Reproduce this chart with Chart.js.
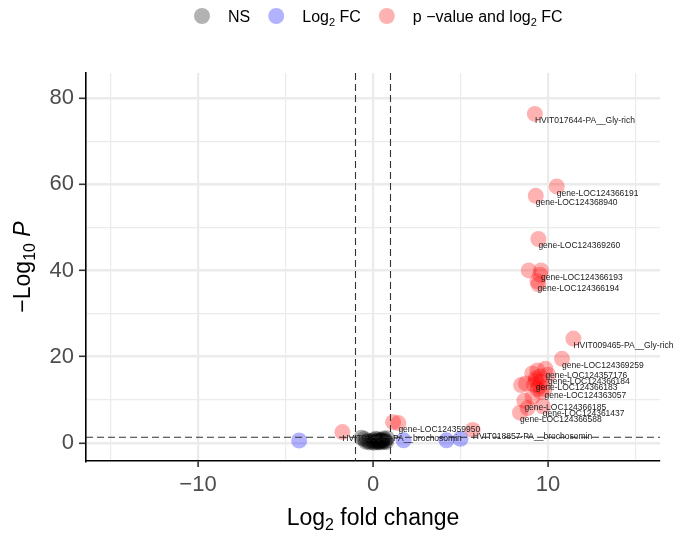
<!DOCTYPE html>
<html>
<head>
<meta charset="utf-8">
<script src="https://cdn.jsdelivr.net/npm/chart.js@4"></script>
<style>
  body { margin: 0; background: #fff; }
  #wrap { width: 680px; height: 538px; }
</style>
</head>
<body>
<div id="wrap"><canvas id="volcano"></canvas></div>
<script>
// --- data ---
// not significant (grey)
const nsX = [-0.65, -0.5, -0.3, -0.1, 0.0, 0.1, 0.2, 0.25, 0.3, 0.35, 0.4, 0.45, 0.5, 0.55, 0.6, 0.65, 0.7, 0.8, -0.2, 0.05, 0.15, -0.4, 0.3, 0.5, 0.75];
const nsY = [1.2, 0.9, 0.5, 0.3, 0.6, 0.2, 0.4, 0.8, 0.1, 0.5, 0.3, 0.7, 0.15, 0.45, 1.0, 0.3, 0.6, 1.1, 0.1, 0.05, 0.95, 0.25, 0.25, 0.6, 0.2];
// log2 FC only (blue)
const fcX = [-4.22, 1.75, 4.2, 5.0];
const fcY = [0.55, 0.6, 0.6, 0.95];
// p-value and log2 FC, unlabelled (red)
const sigX = [8.9, 9.55, 9.45, 9.1, 9.4, 9.55, 9.3, 9.6, 9.2, 9.5, 8.46, 8.74, 9.12, 8.84, 9.6, 9.4, 1.15];
const sigY = [40.0, 39.0, 36.8, 16.1, 16.8, 15.4, 15.0, 14.2, 13.5, 13.2, 13.4, 13.8, 10.7, 8.1, 11.8, 12.5, 4.8];
// labelled genes (red)
const labelNames = [
  'HVIT017644-PA__Gly-rich', 'gene-LOC124366191', 'gene-LOC124368940', 'gene-LOC124369260',
  'gene-LOC124366193', 'gene-LOC124366194', 'HVIT009465-PA__Gly-rich', 'gene-LOC124369259',
  'gene-LOC124357176', 'gene-LOC124366184', 'gene-LOC124366183', 'gene-LOC124363057',
  'gene-LOC124366185', 'gene-LOC124361437', 'gene-LOC124366588', 'gene-LOC124359950',
  'HVIT030047-PA__brochosomin', 'HVIT018857-PA__brochosomin'
];
const labelX = [9.25, 10.5, 9.3, 9.45, 9.6, 9.4, 11.45, 10.8, 9.85, 10.0, 9.3, 9.8, 8.65, 9.7, 8.4, 1.45, -1.75, 5.7];
const labelY = [76.3, 59.5, 57.3, 47.3, 40.0, 37.5, 24.2, 19.5, 17.2, 15.8, 14.4, 12.5, 9.8, 8.5, 7.0, 4.6, 2.5, 3.0];

const xTicks = [-15, -10, -5, 0, 5, 10, 15];
const yTicks = [0, 10, 20, 30, 40, 50, 60, 70, 80];
const xTickLabels = [-10, 0, 10];
const yTickLabels = [0, 20, 40, 60, 80];
const fcCut = 1;
const pCut = 1.3;

const FONT = "'Liberation Sans', Arial, sans-serif";

function pts(xs, ys) { return xs.map((x, i) => ({ x: x, y: ys[i] })); }
function fmt(v) { return v < 0 ? '\u2212' + Math.abs(v) : String(v); }

// draw text made of pieces (for subscripts / italics)
function richText(ctx, parts, x, y, align) {
  let w = 0;
  parts.forEach(p => { ctx.font = (p.style || '') + ' ' + p.size + 'px ' + FONT; p.w = ctx.measureText(p.t).width; w += p.w; });
  let cx = align === 'center' ? x - w / 2 : x;
  parts.forEach(p => {
    ctx.font = (p.style || '') + ' ' + p.size + 'px ' + FONT;
    ctx.fillText(p.t, cx, y + (p.dy || 0));
    cx += p.w;
  });
  return cx;
}

const cutoffLines = {
  id: 'cutoffLines',
  afterDatasetsDraw(chart) {
    const { ctx, chartArea: a, scales: { x, y } } = chart;
    ctx.save();
    ctx.strokeStyle = '#333';
    ctx.lineWidth = 1.1;
    ctx.setLineDash([7, 4]);
    [-fcCut, fcCut].forEach(v => {
      const px = x.getPixelForValue(v);
      ctx.beginPath(); ctx.moveTo(px, a.top); ctx.lineTo(px, a.bottom); ctx.stroke();
    });
    const py = y.getPixelForValue(pCut);
    ctx.beginPath(); ctx.moveTo(a.left, py); ctx.lineTo(a.right, py); ctx.stroke();
    ctx.restore();

    // gene labels
    ctx.save();
    ctx.fillStyle = '#1a1a1a';
    ctx.font = '8.5px ' + FONT;
    ctx.textBaseline = 'middle';
    labelNames.forEach((n, i) => {
      ctx.fillText(n, x.getPixelForValue(labelX[i]), y.getPixelForValue(labelY[i]) + 7);
    });
    ctx.restore();
  }
};

const titlesAndLegend = {
  id: 'titlesAndLegend',
  afterDraw(chart) {
    const { ctx, chartArea: a } = chart;
    ctx.save();
    ctx.fillStyle = '#000';
    ctx.textBaseline = 'alphabetic';
    // x title
    richText(ctx, [
      { t: 'Log', size: 23 }, { t: '2', size: 16, dy: 5 }, { t: ' fold change', size: 23 }
    ], (a.left + a.right) / 2, 525, 'center');
    // y title
    ctx.save();
    ctx.translate(30, (a.top + a.bottom) / 2);
    ctx.rotate(-Math.PI / 2);
    richText(ctx, [
      { t: '\u2212Log', size: 23 }, { t: '10', size: 16, dy: 5 }, { t: ' ', size: 23 }, { t: 'P', size: 23, style: 'italic' }
    ], 0, 0, 'center');
    ctx.restore();

    // legend
    const items = [
      { c: 'rgba(0,0,0,0.3)', parts: [{ t: 'NS', size: 16 }] },
      { c: 'rgba(0,0,255,0.3)', parts: [{ t: 'Log', size: 16 }, { t: '2', size: 11, dy: 4 }, { t: ' FC', size: 16 }] },
      { c: 'rgba(255,0,0,0.3)', parts: [{ t: 'p \u2212value and log', size: 16 }, { t: '2', size: 11, dy: 4 }, { t: ' FC', size: 16 }] }
    ];
    let lx = 202;
    const ly = 16;
    items.forEach(it => {
      ctx.beginPath();
      ctx.fillStyle = it.c;
      ctx.arc(lx, ly, 8, 0, Math.PI * 2);
      ctx.fill();
      ctx.fillStyle = '#000';
      const end = richText(ctx, it.parts, lx + 26, ly + 6, 'left');
      lx = end + 26;
    });
    ctx.restore();
  }
};

const major = (v, list) => list.includes(v);

new Chart(document.getElementById('volcano'), {
  type: 'scatter',
  data: {
    datasets: [
      { label: 'NS', data: pts(nsX, nsY), backgroundColor: 'rgba(0,0,0,0.3)' },
      { label: 'Log2 FC', data: pts(fcX, fcY), backgroundColor: 'rgba(0,0,255,0.3)' },
      { label: 'p-value and log2 FC', data: pts(sigX.concat(labelX), sigY.concat(labelY)), backgroundColor: 'rgba(255,0,0,0.3)' }
    ]
  },
  options: {
    responsive: true,
    maintainAspectRatio: false,
    animation: false,
    events: [],
    elements: { point: { radius: 8, borderWidth: 0 } },
    layout: { padding: { top: 73, right: 20, left: 0, bottom: 0 } },
    plugins: { legend: { display: false }, tooltip: { enabled: false } },
    scales: {
      x: {
        type: 'linear', min: -16.4, max: 16.4,
        afterBuildTicks: s => { s.ticks = xTicks.map(v => ({ value: v })); },
        afterFit: s => { s.height = 77; },
        ticks: {
          autoSkip: false, maxRotation: 0, padding: 5,
          color: '#4d4d4d', font: { family: FONT, size: 22 },
          callback: v => major(v, xTickLabels) ? fmt(v) : ''
        },
        grid: {
          color: '#ebebeb',
          lineWidth: c => (c.tick && major(c.tick.value, xTickLabels)) ? 2.2 : 1.2,
          tickLength: 6, tickWidth: 1.6,
          tickColor: c => (c.tick && major(c.tick.value, xTickLabels)) ? '#333' : 'rgba(0,0,0,0)'
        },
        border: { display: true, color: '#000', width: 1.6 }
      },
      y: {
        type: 'linear', min: -4.2, max: 85.8,
        afterBuildTicks: s => { s.ticks = yTicks.map(v => ({ value: v })); },
        afterFit: s => { s.width = 86; },
        ticks: {
          autoSkip: false, padding: 5,
          color: '#4d4d4d', font: { family: FONT, size: 22 },
          callback: v => major(v, yTickLabels) ? fmt(v) : ''
        },
        grid: {
          color: '#ebebeb',
          lineWidth: c => (c.tick && major(c.tick.value, yTickLabels)) ? 2.6 : 1.2,
          tickLength: 7, tickWidth: 1.6,
          tickColor: c => (c.tick && major(c.tick.value, yTickLabels)) ? '#333' : 'rgba(0,0,0,0)'
        },
        border: { display: true, color: '#000', width: 1.6 }
      }
    }
  },
  plugins: [cutoffLines, titlesAndLegend]
});
</script>
</body>
</html>
